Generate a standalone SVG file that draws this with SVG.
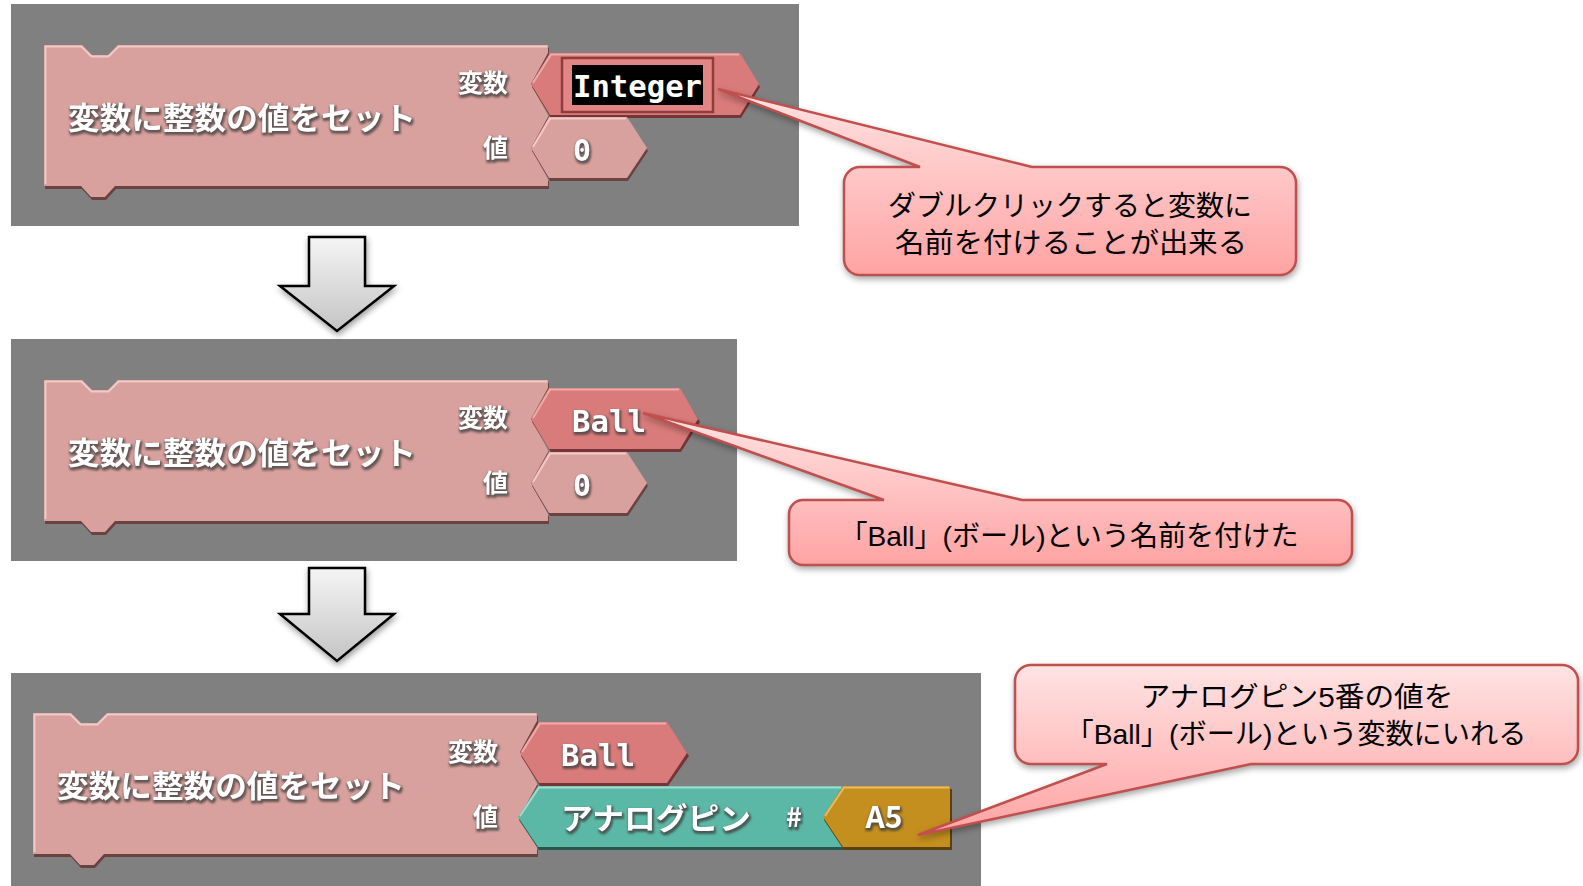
<svg xmlns="http://www.w3.org/2000/svg" xmlns:xlink="http://www.w3.org/1999/xlink" width="1583" height="886" viewBox="0 0 1583 886">
<style>
.panel{fill:#808080}
.mf{fill:#d9a19d}
.ms{fill:#6a4341}
.hl{fill:none;stroke:#f2c9c6;stroke-width:2;stroke-linejoin:round}
.rf{fill:#da7b7b}
.rs{fill:#733535}
.rhl{fill:none;stroke:#f0a9a9;stroke-width:2}
.tf{fill:#5cb8a6}
.ts{fill:#25574d}
.thl{fill:none;stroke:#9fdccf;stroke-width:2}
.gf{fill:#c48f1f}
.gs{fill:#5a400a}
.ghl{fill:none;stroke:#e6bb62;stroke-width:2}
.bt{font-family:"Noto Sans CJK JP","Noto Sans",sans-serif;fill:#ffffff;filter:url(#tshadow)}
.b{font-weight:bold}
.mono{font-family:"DejaVu Sans Mono","Liberation Mono",monospace;font-weight:bold;fill:#ffffff}
.co{stroke:#c0504d;stroke-width:2.5;fill:url(#cg);filter:url(#cshadow)}
.ct{font-family:"Liberation Sans","Noto Sans CJK JP",sans-serif;font-size:28px;fill:#000000;text-anchor:middle}
.arr{fill:url(#ag);stroke:#000000;stroke-width:2.5;stroke-linejoin:miter;filter:url(#ashadow)}
</style>
<defs>
<linearGradient id="cg" x1="0" y1="0" x2="0" y2="1">
<stop offset="0" stop-color="#ffe3e3"/>
<stop offset="1" stop-color="#ffa3a3"/>
</linearGradient>
<linearGradient id="ag" x1="0" y1="0" x2="0" y2="1">
<stop offset="0" stop-color="#f5f5f5"/>
<stop offset="1" stop-color="#c4c4c4"/>
</linearGradient>
<filter id="tshadow" x="-10%" y="-30%" width="120%" height="170%" color-interpolation-filters="sRGB">
<feMorphology in="SourceAlpha" operator="dilate" radius="1" result="d"/>
<feGaussianBlur in="d" stdDeviation="1" result="b"/>
<feOffset in="b" dx="1" dy="1.5" result="o"/>
<feFlood flood-color="#3c3c3c" flood-opacity="0.75"/>
<feComposite in2="o" operator="in" result="s"/>
<feMerge><feMergeNode in="s"/><feMergeNode in="SourceGraphic"/></feMerge>
</filter>
<filter id="cshadow" x="-10%" y="-10%" width="120%" height="130%" color-interpolation-filters="sRGB">
<feGaussianBlur in="SourceAlpha" stdDeviation="3" result="b"/>
<feOffset in="b" dx="1" dy="3" result="o"/>
<feFlood flood-color="#000000" flood-opacity="0.35"/>
<feComposite in2="o" operator="in" result="s"/>
<feMerge><feMergeNode in="s"/><feMergeNode in="SourceGraphic"/></feMerge>
</filter>
<filter id="ashadow" x="-20%" y="-20%" width="140%" height="140%" color-interpolation-filters="sRGB">
<feGaussianBlur in="SourceAlpha" stdDeviation="3" result="b"/>
<feOffset in="b" dx="1" dy="3" result="o"/>
<feFlood flood-color="#000000" flood-opacity="0.4"/>
<feComposite in2="o" operator="in" result="s"/>
<feMerge><feMergeNode in="s"/><feMergeNode in="SourceGraphic"/></feMerge>
</filter>
<path id="mainShape" d="M0,0 H38 L48,10 H64 L74,0 H504 V8 L487,39 L504,70 V72 L487,103 L504,134 V141 H71 L61,152 H47 L37,141 H0 Z"/>
<path id="mainHl" d="M1.5,139 V1.5 H37.5 L47.5,11.5 H64.5 L74.5,1.5 H503"/>
</defs>

<g id="panels">
<rect class="panel" x="11" y="4" width="788" height="222"/>
<rect class="panel" x="11" y="339" width="726" height="222"/>
<rect class="panel" x="11" y="673" width="970" height="213"/>
</g>

<g id="block1" transform="translate(44,45)">
<use xlink:href="#mainShape" class="ms" x="1" y="3"/>
<use xlink:href="#mainShape" class="mf"/>
<use xlink:href="#mainHl" class="hl"/>
<text class="bt b" x="24" y="84" font-size="31" textLength="348" lengthAdjust="spacingAndGlyphs">変数に整数の値をセット</text>
<text class="bt b" x="464" y="47" font-size="25" text-anchor="end">変数</text>
<text class="bt b" x="464" y="112" font-size="25" text-anchor="end">値</text>
<path class="rs" d="M488,42 L507,11 H697 L716,42 L697,73 H507 Z"/>
<path class="rf" d="M487,39 L506,8 H696 L715,39 L696,70 H506 Z"/>
<path class="rhl" d="M489,38 L507,9.5 H695"/>
<rect x="518" y="13" width="151" height="54" fill="#e38585" stroke="#8e3d3d" stroke-width="2.5"/>
<rect x="528" y="20" width="131" height="40" fill="#000000"/>
<text class="mono" x="529" y="52" font-size="30" textLength="129" lengthAdjust="spacingAndGlyphs">Integer</text>
<path class="ms" d="M488,106 L506,75 H584 L604,106 L584,136 H506 Z"/>
<path class="mf" d="M487,103 L505,72 H583 L603,103 L583,133 H505 Z"/>
<path class="hl" d="M489,102 L506,73.5 H582"/>
<text class="mono bt" x="538" y="116" font-size="30" text-anchor="middle">0</text>
</g>

<g id="block2" transform="translate(44,380)">
<use xlink:href="#mainShape" class="ms" x="1" y="3"/>
<use xlink:href="#mainShape" class="mf"/>
<use xlink:href="#mainHl" class="hl"/>
<text class="bt b" x="24" y="84" font-size="31" textLength="348" lengthAdjust="spacingAndGlyphs">変数に整数の値をセット</text>
<text class="bt b" x="464" y="47" font-size="25" text-anchor="end">変数</text>
<text class="bt b" x="464" y="112" font-size="25" text-anchor="end">値</text>
<path class="rs" d="M488,42 L507,11 H637 L656,42 L637,72 H507 Z"/>
<path class="rf" d="M487,39 L505,8 H636 L654,39 L636,69 H505 Z"/>
<path class="rhl" d="M489,38 L506,9.5 H635"/>
<text class="mono bt" x="528" y="52" font-size="30" textLength="74" lengthAdjust="spacingAndGlyphs">Ball</text>
<path class="ms" d="M488,106 L506,75 H584 L604,106 L584,136 H506 Z"/>
<path class="mf" d="M487,103 L505,72 H583 L603,103 L583,133 H505 Z"/>
<path class="hl" d="M489,102 L506,73.5 H582"/>
<text class="mono bt" x="538" y="116" font-size="30" text-anchor="middle">0</text>
</g>

<g id="block3" transform="translate(33,713)">
<use xlink:href="#mainShape" class="ms" x="1" y="3"/>
<use xlink:href="#mainShape" class="mf"/>
<use xlink:href="#mainHl" class="hl"/>
<text class="bt b" x="24" y="84" font-size="31" textLength="348" lengthAdjust="spacingAndGlyphs">変数に整数の値をセット</text>
<text class="bt b" x="465" y="48" font-size="25" text-anchor="end">変数</text>
<text class="bt b" x="465" y="113" font-size="25" text-anchor="end">値</text>
<path class="rs" d="M488,43 L507,12 H635 L656,43 L635,73 H507 Z"/>
<path class="rf" d="M487,40 L506,9 H634 L654,40 L634,70 H506 Z"/>
<path class="rhl" d="M489,39 L507,10.5 H633"/>
<text class="mono bt" x="528" y="53" font-size="30" textLength="74" lengthAdjust="spacingAndGlyphs">Ball</text>
<path class="ts" d="M486,107 L506,76 H811 L792,107 L811,137 H506 Z"/>
<path class="tf" d="M485,104 L505,73 H810 L791,104 L810,134 H505 Z"/>
<path class="thl" d="M487,103 L506,74.5 H808"/>
<text class="bt b" x="528" y="116" font-size="30" textLength="190" lengthAdjust="spacingAndGlyphs">アナログピン</text>
<text class="bt b" x="761" y="114" font-size="27" text-anchor="middle">#</text>
<path class="gs" d="M791,107 L811,76 H919 V137 H811 Z"/>
<path class="gf" d="M790,104 L810,73 H917 V134 H810 Z"/>
<path class="ghl" d="M792,103 L811,74.5 H916"/>
<text class="bt b" x="851" y="115" font-size="30" text-anchor="middle">A5</text>
</g>

<g id="connectors">
<path class="arr" d="M309,237 H365 V286 H394 L337,331 L280,286 H309 Z"/>
<path class="arr" d="M309,568 H365 V614 H394 L337,661 L280,614 H309 Z"/>
</g>

<g id="callout1">
<path class="co" d="M860,167 H920 L718,89 L1032,167 H1280 A16,16 0 0 1 1296,183 V259 A16,16 0 0 1 1280,275 H860 A16,16 0 0 1 844,259 V183 A16,16 0 0 1 860,167 Z"/>
<text class="ct" x="1070" y="216" textLength="364" lengthAdjust="spacingAndGlyphs">ダブルクリックすると変数に</text>
<text class="ct" x="1071" y="253" textLength="352" lengthAdjust="spacingAndGlyphs">名前を付けることが出来る</text>
</g>

<g id="callout2">
<path class="co" d="M803,500 H884 L643,413 L1022,500 H1338 A14,14 0 0 1 1352,514 V551 A14,14 0 0 1 1338,565 H803 A14,14 0 0 1 789,551 V514 A14,14 0 0 1 803,500 Z"/>
<text class="ct" x="1069" y="546" textLength="459" lengthAdjust="spacingAndGlyphs">「Ball」(ボール)という名前を付けた</text>
</g>

<g id="callout3">
<path class="co" d="M1031,665 H1562 A16,16 0 0 1 1578,681 V748 A16,16 0 0 1 1562,764 H1251 L918,835 L1107,764 H1031 A16,16 0 0 1 1015,748 V681 A16,16 0 0 1 1031,665 Z"/>
<text class="ct" x="1297" y="707" textLength="313" lengthAdjust="spacingAndGlyphs">アナログピン5番の値を</text>
<text class="ct" x="1296" y="744" textLength="461" lengthAdjust="spacingAndGlyphs">「Ball」(ボール)という変数にいれる</text>
</g>
</svg>
